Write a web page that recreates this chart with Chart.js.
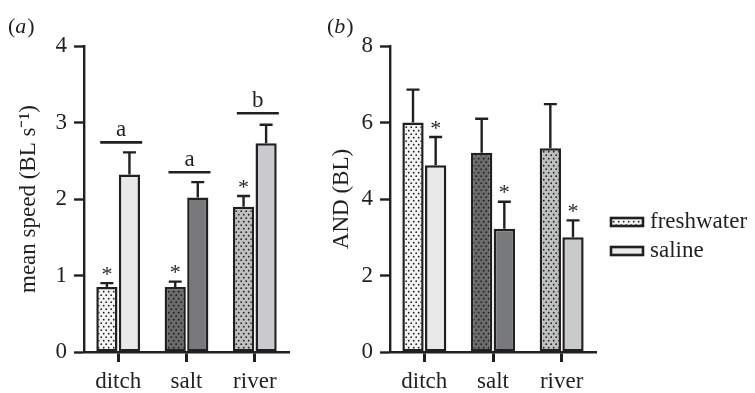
<!DOCTYPE html>
<html>
<head>
<meta charset="utf-8">
<script src="https://cdn.jsdelivr.net/npm/chart.js@4"></script>
<style>
  body { margin: 0; background: #fff; }
  #wrap { position: relative; width: 755px; height: 393px; }
  #ca { position: absolute; left: 0; top: 0; }
  #cb { position: absolute; left: 300px; top: 0; }
</style>
</head>
<body>
<div id="wrap">
  <canvas id="ca" width="300" height="393"></canvas>
  <canvas id="cb" width="455" height="393"></canvas>
</div>
<script>
// data
const categories = ['ditch', 'salt', 'river'];

const speedFresh = [0.85, 0.85, 1.90];
const speedFreshErr = [0.05, 0.07, 0.14];
const speedSaline = [2.32, 2.02, 2.73];
const speedSalineErr = [0.29, 0.20, 0.24];
const speedLetters = ['a', 'a', 'b'];
const speedLetterY = [2.74, 2.35, 3.12];

const andFresh = [6.00, 5.21, 5.33];
const andFreshErr = [0.86, 0.89, 1.15];
const andSaline = [4.88, 3.22, 3.00];
const andSalineErr = [0.74, 0.71, 0.44];

const speedTicks = [0, 1, 2, 3, 4];
const andTicks = [0, 2, 4, 6, 8];

const ink = '#231f20';
const serif = "'Liberation Serif', 'Times New Roman', serif";

function dotted(base) {
  const c = document.createElement('canvas');
  c.width = 5; c.height = 7;
  const g = c.getContext('2d');
  g.fillStyle = base;
  g.fillRect(0, 0, 5, 7);
  g.fillStyle = '#1a1a1a';
  g.beginPath(); g.arc(1.2, 1.2, 0.85, 0, Math.PI * 2); g.fill();
  g.beginPath(); g.arc(3.7, 4.7, 0.85, 0, Math.PI * 2); g.fill();
  return g.createPattern(c, 'repeat');
}

const freshFill = [dotted('#f3f3f3'), dotted('#6b6b6b'), dotted('#bebfc0')];
const salineFill = ['#e8e9e9', '#78797b', '#c9cacc'];

// error bars, asterisks, significance lines
const extras = {
  id: 'extras',
  afterDatasetsDraw(chart, args, opts) {
    const ctx = chart.ctx;
    const y = chart.scales.y;
    const x = chart.scales.x;
    ctx.save();
    ctx.strokeStyle = ink;
    ctx.fillStyle = ink;
    ctx.lineWidth = 2.4;
    chart.data.datasets.forEach((ds, di) => {
      const meta = chart.getDatasetMeta(di);
      meta.data.forEach((bar, i) => {
        const top = y.getPixelForValue(ds.data[i] + ds.err[i]);
        ctx.beginPath();
        ctx.moveTo(bar.x, bar.y);
        ctx.lineTo(bar.x, top);
        ctx.moveTo(bar.x - 6.5, top);
        ctx.lineTo(bar.x + 6.5, top);
        ctx.stroke();
        if (ds.star) {
          ctx.font = '22px ' + serif;
          ctx.textAlign = 'center';
          ctx.textBaseline = 'middle';
          ctx.fillText('*', bar.x, top - 8);
        }
      });
    });
    if (opts.letters) {
      ctx.lineWidth = 2.6;
      opts.letters.forEach((t, i) => {
        const cx = x.getPixelForValue(i);
        const ly = y.getPixelForValue(opts.letterY[i]);
        ctx.beginPath();
        ctx.moveTo(cx - 18, ly);
        ctx.lineTo(cx + 24, ly);
        ctx.stroke();
        ctx.font = '23px ' + serif;
        ctx.textAlign = 'center';
        ctx.textBaseline = 'alphabetic';
        ctx.fillText(t, cx + 3, ly - 6);
      });
    }
    // panel label
    ctx.textBaseline = 'middle';
    ctx.textAlign = 'left';
    let px = opts.labelX;
    ctx.font = '22px ' + serif;
    ctx.fillText('(', px, 27); px += ctx.measureText('(').width;
    ctx.font = 'italic 22px ' + serif;
    ctx.fillText(opts.label, px, 27); px += ctx.measureText(opts.label).width + 1;
    ctx.font = '22px ' + serif;
    ctx.fillText(')', px, 27);
    // legend
    if (opts.legend) {
      const items = [['freshwater', dotted('#f3f3f3'), 222], ['saline', '#e8e9e9', 251]];
      items.forEach(([name, fill, cy]) => {
        ctx.fillStyle = fill;
        ctx.fillRect(311, cy - 4, 32, 8);
        ctx.strokeStyle = ink;
        ctx.lineWidth = 2.6;
        ctx.strokeRect(311, cy - 4, 32, 8);
        ctx.fillStyle = ink;
        ctx.font = '23px ' + serif;
        ctx.textAlign = 'left';
        ctx.textBaseline = 'middle';
        ctx.fillText(name, 350, cy);
      });
    }
    ctx.restore();
  }
};

function makeChart(id, fresh, freshErr, saline, salineErr, freshStar, ticks, title, yw, titlePad, padRight, extraOpts) {
  return new Chart(id, {
    type: 'bar',
    data: {
      labels: categories,
      datasets: [
        { label: 'freshwater', data: fresh, err: freshErr, star: freshStar,
          backgroundColor: freshFill, borderColor: ink, borderWidth: 2.5, borderSkipped: false,
          categoryPercentage: 0.66, barPercentage: 0.94 },
        { label: 'saline', data: saline, err: salineErr, star: !freshStar,
          backgroundColor: salineFill, borderColor: ink, borderWidth: 2.5, borderSkipped: false,
          categoryPercentage: 0.66, barPercentage: 0.94 }
      ]
    },
    options: {
      responsive: false,
      animation: false,
      layout: { padding: { top: 46, right: padRight, left: 0, bottom: 0 } },
      plugins: { legend: { display: false }, tooltip: { enabled: false }, extras: extraOpts },
      scales: {
        x: {
          grid: { display: true, drawOnChartArea: false, drawTicks: true, offset: false, tickLength: 10, tickColor: '#231f20', tickWidth: 3 },
          border: { color: ink, width: 2.4 },
          ticks: { color: ink, font: { family: serif, size: 23 }, padding: 6 },
          afterFit: s => { s.height = 41; }
        },
        y: {
          min: ticks[0], max: ticks[ticks.length - 1],
          afterBuildTicks: s => { s.ticks = ticks.map(v => ({ value: v })); },
          grid: { display: true, drawOnChartArea: false, tickLength: 10, tickColor: ink, tickWidth: 2.4 },
          border: { color: ink, width: 2.4 },
          ticks: { color: ink, font: { family: serif, size: 23 }, padding: 7 },
          title: { display: true, text: title, color: ink, font: { family: serif, size: 23 }, padding: { top: titlePad, bottom: 0 } },
          afterFit: s => { s.width = yw; }
        }
      }
    },
    plugins: [extras]
  });
}

makeChart('ca', speedFresh, speedFreshErr, speedSaline, speedSalineErr, true, speedTicks,
  'mean speed (BL s\u207B\u00B9)', 84, 15, 11,
  { letters: speedLetters, letterY: speedLetterY, label: 'a', labelX: 8 });

makeChart('cb', andFresh, andFreshErr, andSaline, andSalineErr, false, andTicks,
  'AND (BL)', 90, 28, 159,
  { label: 'b', labelX: 27, legend: true });
</script>
</body>
</html>
